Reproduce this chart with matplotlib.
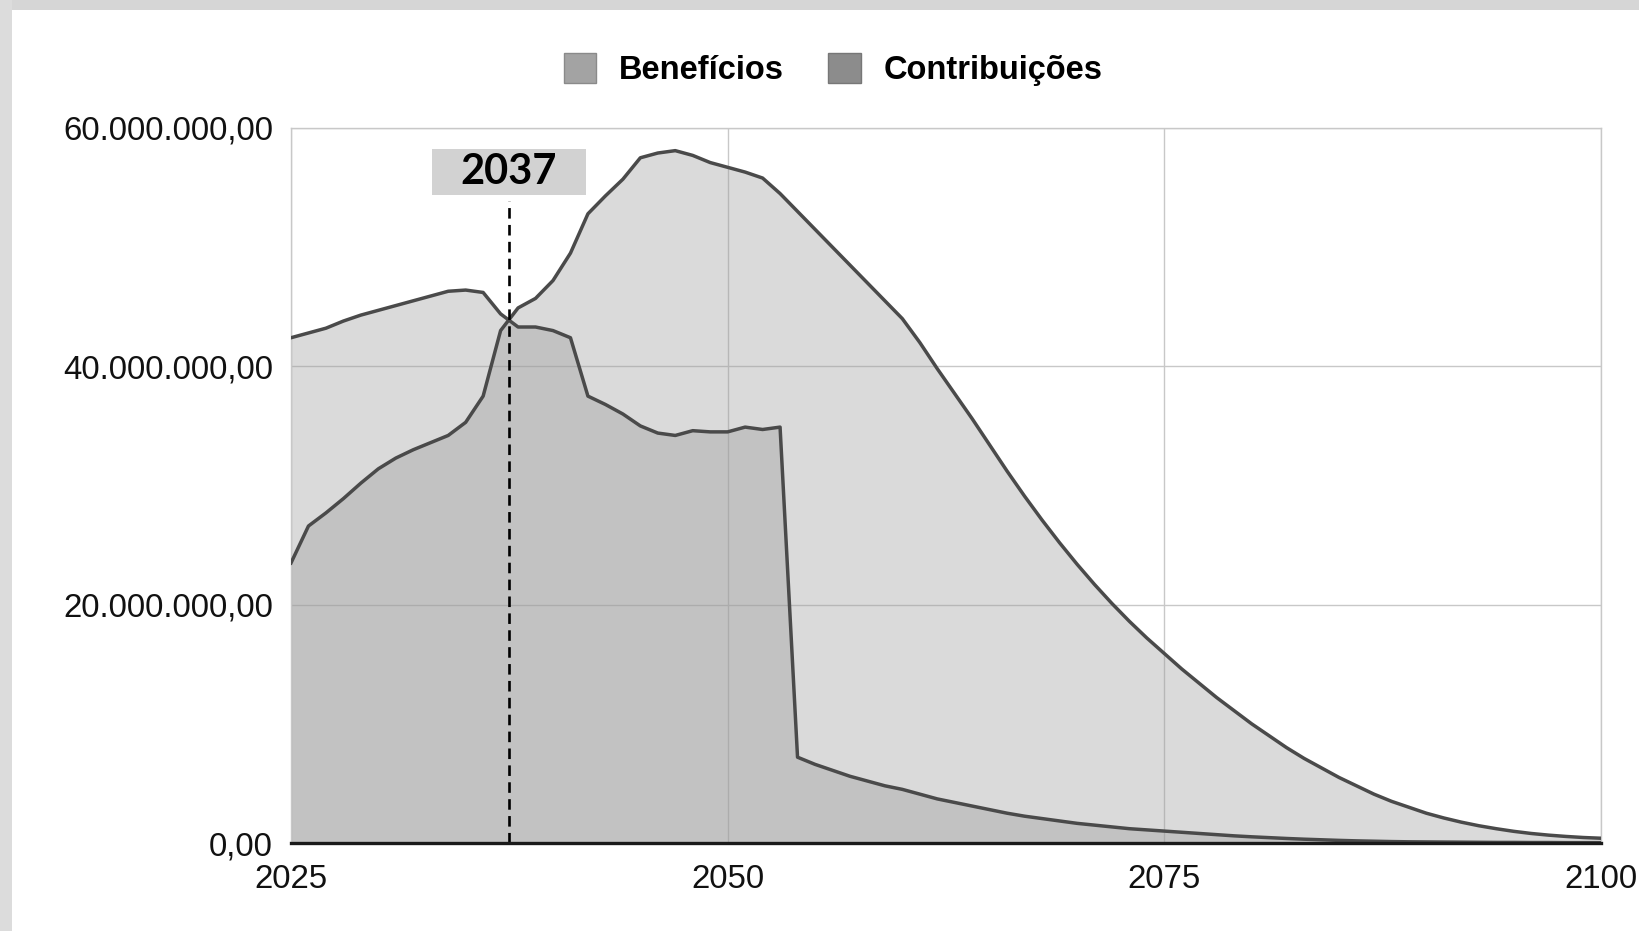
import numpy as np
import matplotlib
matplotlib.use("Agg")
import matplotlib.pyplot as plt
from matplotlib.patches import Rectangle, Patch
from matplotlib.ticker import FuncFormatter

# dados (milhões de R$), um ponto por ano
anos = list(range(2025, 2101))

beneficios = [
    23.5, 26.6, 27.7, 28.9, 30.2, 31.4, 32.3, 33.0, 33.6, 34.2,
    35.3, 37.5, 43.0, 44.9, 45.7, 47.2, 49.5, 52.8, 54.3, 55.7,
    57.5, 57.9, 58.1, 57.7, 57.1, 56.7, 56.3, 55.8, 54.5, 53.0,
    51.5, 50.0, 48.5, 47.0, 45.5, 44.0, 42.0, 39.8, 37.7, 35.6,
    33.4, 31.2, 29.1, 27.1, 25.2, 23.4, 21.7, 20.1, 18.6, 17.2,
    15.9, 14.6, 13.4, 12.2, 11.1, 10.0, 9.0, 8.0, 7.1, 6.3,
    5.5, 4.8, 4.1, 3.5, 3.0, 2.5, 2.1, 1.75, 1.45, 1.2,
    0.98, 0.8, 0.66, 0.55, 0.46, 0.4,
]

contribuicoes = [
    42.4, 42.8, 43.2, 43.8, 44.3, 44.7, 45.1, 45.5, 45.9, 46.3,
    46.4, 46.2, 44.4, 43.3, 43.3, 43.0, 42.4, 37.5, 36.8, 36.0,
    35.0, 34.4, 34.2, 34.6, 34.5, 34.5, 34.9, 34.7, 34.9, 7.2,
    6.6, 6.1, 5.6, 5.2, 4.8, 4.5, 4.1, 3.7, 3.4, 3.1,
    2.8, 2.5, 2.25, 2.05, 1.85, 1.65, 1.5, 1.35, 1.2, 1.1,
    1.0, 0.9, 0.8, 0.7, 0.6, 0.52, 0.45, 0.38, 0.32, 0.27,
    0.22, 0.18, 0.15, 0.12, 0.1, 0.09, 0.08, 0.07, 0.06, 0.05,
    0.05, 0.04, 0.04, 0.03, 0.03, 0.03,
]

series = ["Benefícios", "Contribuições"]
marco_txt = "2037"
y_ticks = [0, 20e6, 40e6, 60e6]
x_ticks = [2025, 2050, 2075, 2100]

x = np.array(anos, dtype=float)
ben = np.array(beneficios) * 1e6
con = np.array(contribuicoes) * 1e6

# ponto onde as curvas se cruzam
d = con - ben
i = np.where(np.sign(d[:-1]) != np.sign(d[1:]))[0][0]
x_cruz = x[i] + d[i] / (d[i] - d[i + 1])

plt.rcParams['font.family'] = ['Liberation Sans', 'DejaVu Sans']

fig = plt.figure(figsize=(16.4, 9.31), dpi=100)
fig.patch.set_facecolor('white')
# bordas cinza da digitalização
fig.patches.append(Rectangle((0, 1 - 10 / 931), 1, 10 / 931, transform=fig.transFigure,
                             facecolor='#d6d6d6', edgecolor='none', zorder=0))
fig.patches.append(Rectangle((0, 0), 12 / 1640, 1, transform=fig.transFigure,
                             facecolor='#dcdcdc', edgecolor='none', zorder=0))

ax = fig.add_axes([291 / 1640, 1 - 843 / 931, 1310 / 1640, 715 / 931])

fill_c = '#9a9a9a'
line_c = '#4a4a4a'
ax.fill_between(x, 0, ben, color=fill_c, alpha=0.36, lw=0, zorder=2)
ax.fill_between(x, 0, con, color=fill_c, alpha=0.36, lw=0, zorder=2)
ax.plot(x, ben, color=line_c, lw=2.5, zorder=3, solid_joinstyle='round')
ax.plot(x, con, color=line_c, lw=2.5, zorder=3, solid_joinstyle='round')

ax.set_xlim(2025, 2100)
ax.set_ylim(0, 60e6)
ax.set_xticks(x_ticks)
ax.set_yticks(y_ticks)
ax.grid(True, color='#c8c8c8', lw=1.0, zorder=1)
ax.set_axisbelow(True)
ax.tick_params(length=0, labelsize=23.8, pad=13, colors='#111111')
ax.tick_params(axis='x', pad=15)


def fmt_br(v, pos):
    s = f"{v:,.2f}"
    return s.replace(',', 'X').replace('.', ',').replace('X', '.')


ax.yaxis.set_major_formatter(FuncFormatter(fmt_br))
ax.xaxis.set_major_formatter(FuncFormatter(lambda v, p: f"{int(v)}"))

for s in ['left', 'top', 'right']:
    ax.spines[s].set_color('#c8c8c8')
    ax.spines[s].set_linewidth(1.0)
ax.spines['bottom'].set_color('#1a1a1a')
ax.spines['bottom'].set_linewidth(2.4)
ax.spines['bottom'].set_zorder(5)

# marco do cruzamento
ax.vlines(x_cruz, 0, 53.9e6, colors='black', lw=1.9, linestyles=(0, (4.0, 2.4)), zorder=4)
box_w, box_h = 8.8, 3.8e6
ax.add_patch(Rectangle((x_cruz - box_w / 2, 54.4e6), box_w, box_h,
                       facecolor='#d2d2d2', edgecolor='none', zorder=4))
ax.text(x_cruz, 54.4e6 + box_h / 2, marco_txt, ha='center', va='center',
        fontsize=30, fontweight='bold', family=['Lato', 'DejaVu Sans'], color='black', zorder=5)

handles = [Patch(facecolor='#a3a3a3', edgecolor='#8a8a8a'),
           Patch(facecolor='#8c8c8c', edgecolor='#777777')]
fig.legend(handles, series, loc='center', bbox_to_anchor=(0.508, 0.925), ncol=2,
           frameon=False, prop={'weight': 'bold', 'size': 23.5},
           handlelength=1.0, handleheight=1.0, handletextpad=0.7, columnspacing=1.35)

fig.savefig('out.png', dpi=100)
